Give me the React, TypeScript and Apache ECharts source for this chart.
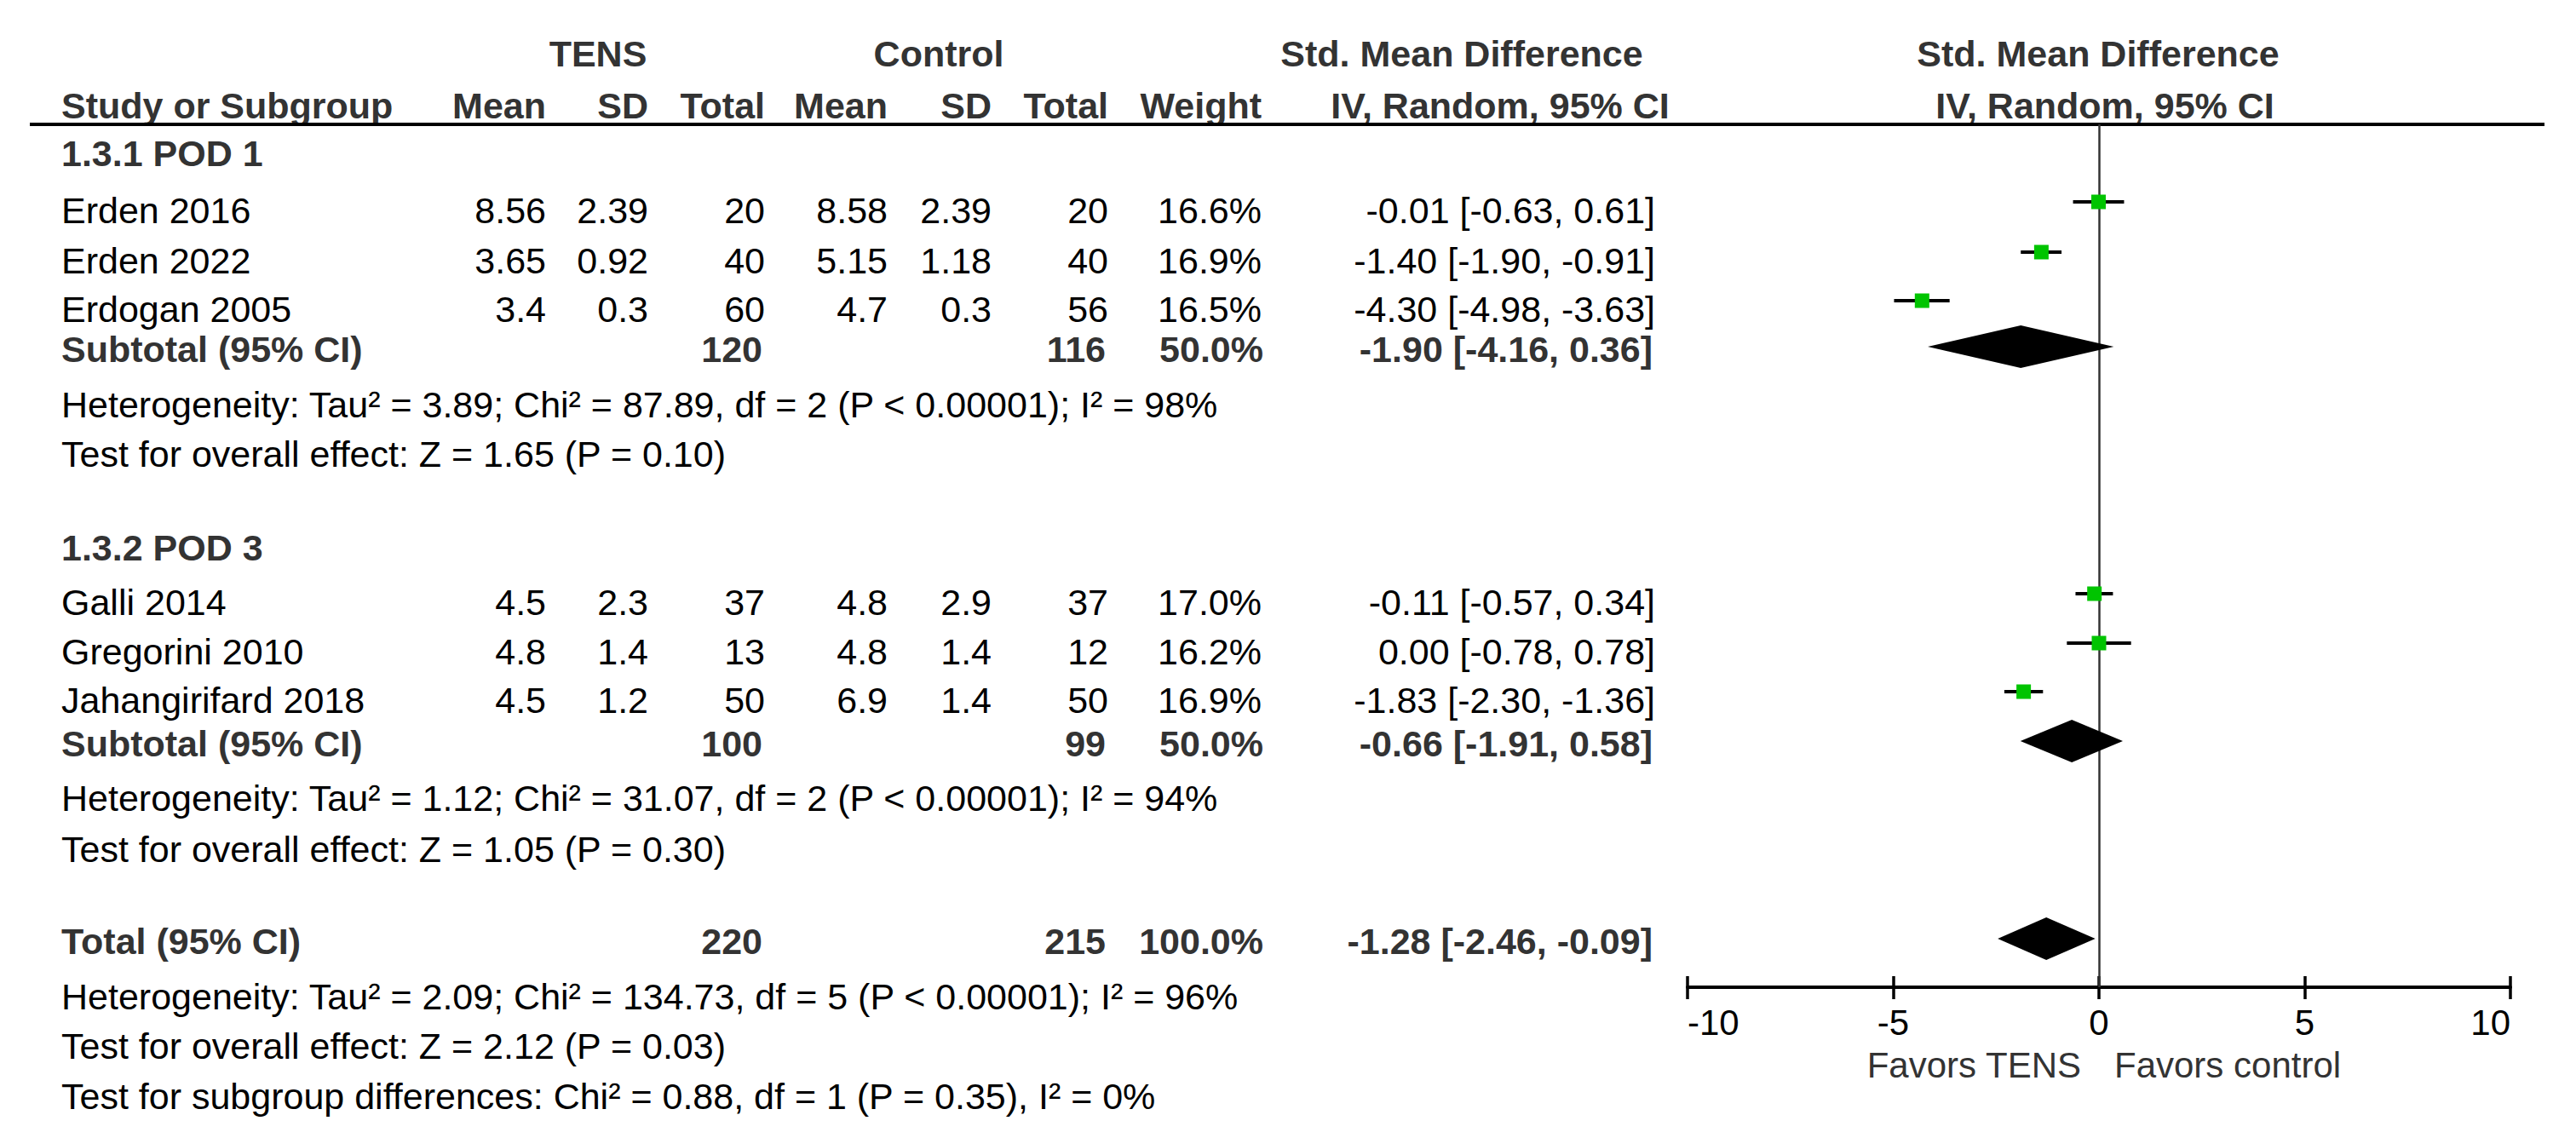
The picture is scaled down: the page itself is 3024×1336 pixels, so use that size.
import React, { useEffect, useRef } from "react";
import * as echarts from "echarts";

// ---------------- data ----------------
const studies = ["Erden 2016", "Erden 2022", "Erdogan 2005", "Galli 2014", "Gregorini 2010", "Jahangirifard 2018"];
const tensMean = [8.56, 3.65, 3.4, 4.5, 4.8, 4.5];
const tensSD = [2.39, 0.92, 0.3, 2.3, 1.4, 1.2];
const tensN = [20, 40, 60, 37, 13, 50];
const ctrlMean = [8.58, 5.15, 4.7, 4.8, 4.8, 6.9];
const ctrlSD = [2.39, 1.18, 0.3, 2.9, 1.4, 1.4];
const ctrlN = [20, 40, 56, 37, 12, 50];
const weights = [16.6, 16.9, 16.5, 17.0, 16.2, 16.9];
const smd = [-0.01, -1.40, -4.30, -0.11, 0.00, -1.83];
const ciLow = [-0.63, -1.90, -4.98, -0.57, -0.78, -2.30];
const ciHigh = [0.61, -0.91, -3.63, 0.34, 0.78, -1.36];

const subgroupNames = ["1.3.1 POD 1", "1.3.2 POD 3"];
const pooledLabels = ["Subtotal (95% CI)", "Subtotal (95% CI)", "Total (95% CI)"];
const pooledTensN = [120, 100, 220];
const pooledCtrlN = [116, 99, 215];
const pooledWeight = [50.0, 50.0, 100.0];
const pooledSmd = [-1.90, -0.66, -1.28];
const pooledLow = [-4.16, -1.91, -2.46];
const pooledHigh = [0.36, 0.58, -0.09];

const hetTexts = [
  "Heterogeneity: Tau² = 3.89; Chi² = 87.89, df = 2 (P < 0.00001); I² = 98%",
  "Heterogeneity: Tau² = 1.12; Chi² = 31.07, df = 2 (P < 0.00001); I² = 94%",
  "Heterogeneity: Tau² = 2.09; Chi² = 134.73, df = 5 (P < 0.00001); I² = 96%",
];
const effectTexts = [
  "Test for overall effect: Z = 1.65 (P = 0.10)",
  "Test for overall effect: Z = 1.05 (P = 0.30)",
  "Test for overall effect: Z = 2.12 (P = 0.03)",
];
const subgroupDiffText = "Test for subgroup differences: Chi² = 0.88, df = 1 (P = 0.35), I² = 0%";

const xMin = -10;
const xMax = 10;
const xInterval = 5;
const favorLeft = "Favors TENS";
const favorRight = "Favors control";

// ---------------- layout ----------------
const W = 3024;
const H = 1336;
const FONT = "'Liberation Sans', Arial, Helvetica, sans-serif";
const FS = 43;
const GRID_LEFT = 1981;
const GRID_RIGHT_X = 2947;
const GRID_TOP = 146;
const GRID_BOTTOM_Y = 1159;

// vertical positions of table lines (layout)
const HEAD1_Y = 63;
const HEAD2_Y = 124;
const GROUP_Y = [180, 643];
const STUDY_Y = [247, 306, 363, 707, 765, 822];
const POOLED_Y = [410, 873, 1105];
const HET_Y = [475, 937, 1170];
const EFFECT_Y = [533, 997, 1228];
const SUBDIFF_Y = 1287;
const MARK_OFFSET = -10;
const DIAMOND_OFFSET = -3;

// columns (right edges unless noted)
const COL_STUDY = 72;
const COL_TM = 641;
const COL_TSD = 761;
const COL_TN = 898;
const COL_CM = 1042;
const COL_CSD = 1164;
const COL_CN = 1301;
const COL_W = 1481;
const COL_CI = 1943;

const fmt2 = (v: number) => v.toFixed(2);
const ciText = (e: number, l: number, h: number) => `${fmt2(e)} [${fmt2(l)}, ${fmt2(h)}]`;

function txt(text: string, x: number, y: number, align: string, bold = false, fill = "#000", size = FS) {
  return {
    type: "text",
    x,
    y,
    silent: true,
    style: {
      text,
      fill,
      fontSize: size,
      fontFamily: FONT,
      fontWeight: bold ? "bold" : "normal",
      align,
      verticalAlign: "middle",
    },
  };
}

export default function App() {
  const ref = useRef<HTMLDivElement>(null);

  useEffect(() => {
    if (!ref.current) return;
    const chart = echarts.init(ref.current, undefined, { renderer: "svg" });

    const g: any[] = [];
    const HB = "#333";
    // headers
    g.push(txt("TENS", 702, HEAD1_Y, "center", true, HB));
    g.push(txt("Control", 1102, HEAD1_Y, "center", true, HB));
    g.push(txt("Std. Mean Difference", 1716, HEAD1_Y, "center", true, HB));
    g.push(txt("Std. Mean Difference", 2463, HEAD1_Y, "center", true, HB));
    g.push(txt("Study or Subgroup", COL_STUDY, HEAD2_Y, "left", true, HB));
    g.push(txt("Mean", COL_TM, HEAD2_Y, "right", true, HB));
    g.push(txt("SD", COL_TSD, HEAD2_Y, "right", true, HB));
    g.push(txt("Total", COL_TN, HEAD2_Y, "right", true, HB));
    g.push(txt("Mean", COL_CM, HEAD2_Y, "right", true, HB));
    g.push(txt("SD", COL_CSD, HEAD2_Y, "right", true, HB));
    g.push(txt("Total", COL_CN, HEAD2_Y, "right", true, HB));
    g.push(txt("Weight", COL_W, HEAD2_Y, "right", true, HB));
    g.push(txt("IV, Random, 95% CI", 1761, HEAD2_Y, "center", true, HB));
    g.push(txt("IV, Random, 95% CI", 2471, HEAD2_Y, "center", true, HB));
    g.push({
      type: "line",
      silent: true,
      shape: { x1: 35, y1: GRID_TOP, x2: 2987, y2: GRID_TOP },
      style: { stroke: "#000", lineWidth: 4 },
    });

    // subgroup headings
    subgroupNames.forEach((name, i) => g.push(txt(name, COL_STUDY, GROUP_Y[i], "left", true, HB)));

    // study rows
    studies.forEach((s, i) => {
      const y = STUDY_Y[i];
      g.push(txt(s, COL_STUDY, y, "left"));
      g.push(txt(String(tensMean[i]), COL_TM, y, "right"));
      g.push(txt(String(tensSD[i]), COL_TSD, y, "right"));
      g.push(txt(String(tensN[i]), COL_TN, y, "right"));
      g.push(txt(String(ctrlMean[i]), COL_CM, y, "right"));
      g.push(txt(String(ctrlSD[i]), COL_CSD, y, "right"));
      g.push(txt(String(ctrlN[i]), COL_CN, y, "right"));
      g.push(txt(weights[i].toFixed(1) + "%", COL_W, y, "right"));
      g.push(txt(ciText(smd[i], ciLow[i], ciHigh[i]), COL_CI, y, "right"));
    });

    // pooled rows
    pooledLabels.forEach((lab, i) => {
      const y = POOLED_Y[i];
      g.push(txt(lab, COL_STUDY, y, "left", true, HB));
      g.push(txt(String(pooledTensN[i]), COL_TN - 3, y, "right", true, HB));
      g.push(txt(String(pooledCtrlN[i]), COL_CN - 3, y, "right", true, HB));
      g.push(txt(pooledWeight[i].toFixed(1) + "%", COL_W + 2, y, "right", true, HB));
      g.push(txt(ciText(pooledSmd[i], pooledLow[i], pooledHigh[i]), COL_CI - 3, y, "right", true, HB));
      g.push(txt(hetTexts[i], COL_STUDY, HET_Y[i], "left"));
      g.push(txt(effectTexts[i], COL_STUDY, EFFECT_Y[i], "left"));
    });
    g.push(txt(subgroupDiffText, COL_STUDY, SUBDIFF_Y, "left"));

    // favours labels
    const zeroX = GRID_LEFT + ((0 - xMin) / (xMax - xMin)) * (GRID_RIGHT_X - GRID_LEFT);
    g.push(txt(favorLeft, zeroX - 21, 1250, "right", false, "#333", 42));
    g.push(txt(favorRight, zeroX + 18, 1250, "left", false, "#333", 42));

    const ciData = studies.map((_, i) => [ciLow[i], ciHigh[i], STUDY_Y[i] + MARK_OFFSET]);
    const pointData = studies.map((_, i) => [smd[i], STUDY_Y[i] + MARK_OFFSET, weights[i]]);
    const diamondData = pooledSmd.map((e, i) => [pooledLow[i], pooledHigh[i], e, POOLED_Y[i] + DIAMOND_OFFSET]);

    const axisBase = {
      type: "value",
      min: xMin,
      max: xMax,
      interval: xInterval,
      gridIndex: 0,
      position: "bottom",
      splitLine: { show: false },
    };

    chart.setOption({
      animation: false,
      backgroundColor: "#fff",
      grid: {
        left: GRID_LEFT,
        top: GRID_TOP,
        width: GRID_RIGHT_X - GRID_LEFT,
        height: GRID_BOTTOM_Y - GRID_TOP,
        containLabel: false,
      },
      xAxis: [
        {
          ...axisBase,
          axisLine: { show: true, lineStyle: { color: "#000", width: 4 } },
          axisTick: { show: true, length: 14, lineStyle: { color: "#000", width: 3.5 } },
          axisLabel: {
            show: true,
            color: "#000",
            fontSize: 42,
            fontFamily: FONT,
            margin: 20,
            lineHeight: 42,
            alignMinLabel: "left",
            alignMaxLabel: "right",
          },
        },
        {
          ...axisBase,
          axisLine: { show: false },
          axisTick: { show: true, inside: true, length: 13, lineStyle: { color: "#000", width: 3.5 } },
          axisLabel: { show: false },
        },
      ],
      yAxis: {
        type: "value",
        inverse: true,
        min: GRID_TOP,
        max: GRID_BOTTOM_Y,
        show: false,
        splitLine: { show: false },
      },
      graphic: g,
      series: [
        {
          name: "CI",
          type: "custom",
          xAxisIndex: 0,
          data: ciData,
          encode: { x: [0, 1], y: 2 },
          z: 3,
          renderItem: (params: any, api: any) => {
            const p1 = api.coord([api.value(0), api.value(2)]);
            const p2 = api.coord([api.value(1), api.value(2)]);
            return {
              type: "line",
              shape: { x1: p1[0], y1: p1[1], x2: p2[0], y2: p2[1] },
              style: { stroke: "#000", lineWidth: 4 },
            };
          },
        },
        {
          name: "SMD",
          type: "scatter",
          xAxisIndex: 0,
          data: pointData,
          symbol: "rect",
          symbolSize: 17,
          itemStyle: { color: "#00c400", opacity: 1 },
          z: 5,
          markLine: {
            silent: true,
            symbol: ["none", "none"],
            label: { show: false },
            lineStyle: { color: "#333", width: 2.5, type: "solid" },
            data: [{ xAxis: 0 }],
            z: 2,
          },
        },
        {
          name: "Pooled",
          type: "custom",
          xAxisIndex: 0,
          data: diamondData,
          encode: { x: [0, 1, 2], y: 3 },
          z: 4,
          renderItem: (params: any, api: any) => {
            const y = api.value(3);
            const pl = api.coord([api.value(0), y]);
            const ph = api.coord([api.value(1), y]);
            const pe = api.coord([api.value(2), y]);
            const hh = 25;
            return {
              type: "polygon",
              shape: {
                points: [
                  [pl[0], pl[1]],
                  [pe[0], pe[1] - hh],
                  [ph[0], ph[1]],
                  [pe[0], pe[1] + hh],
                ],
              },
              style: { fill: "#000" },
            };
          },
        },
      ],
    });

    return () => chart.dispose();
  }, []);

  return <div ref={ref} style={{ position: "absolute", left: 0, top: 0, width: W, height: H }} />;
}
